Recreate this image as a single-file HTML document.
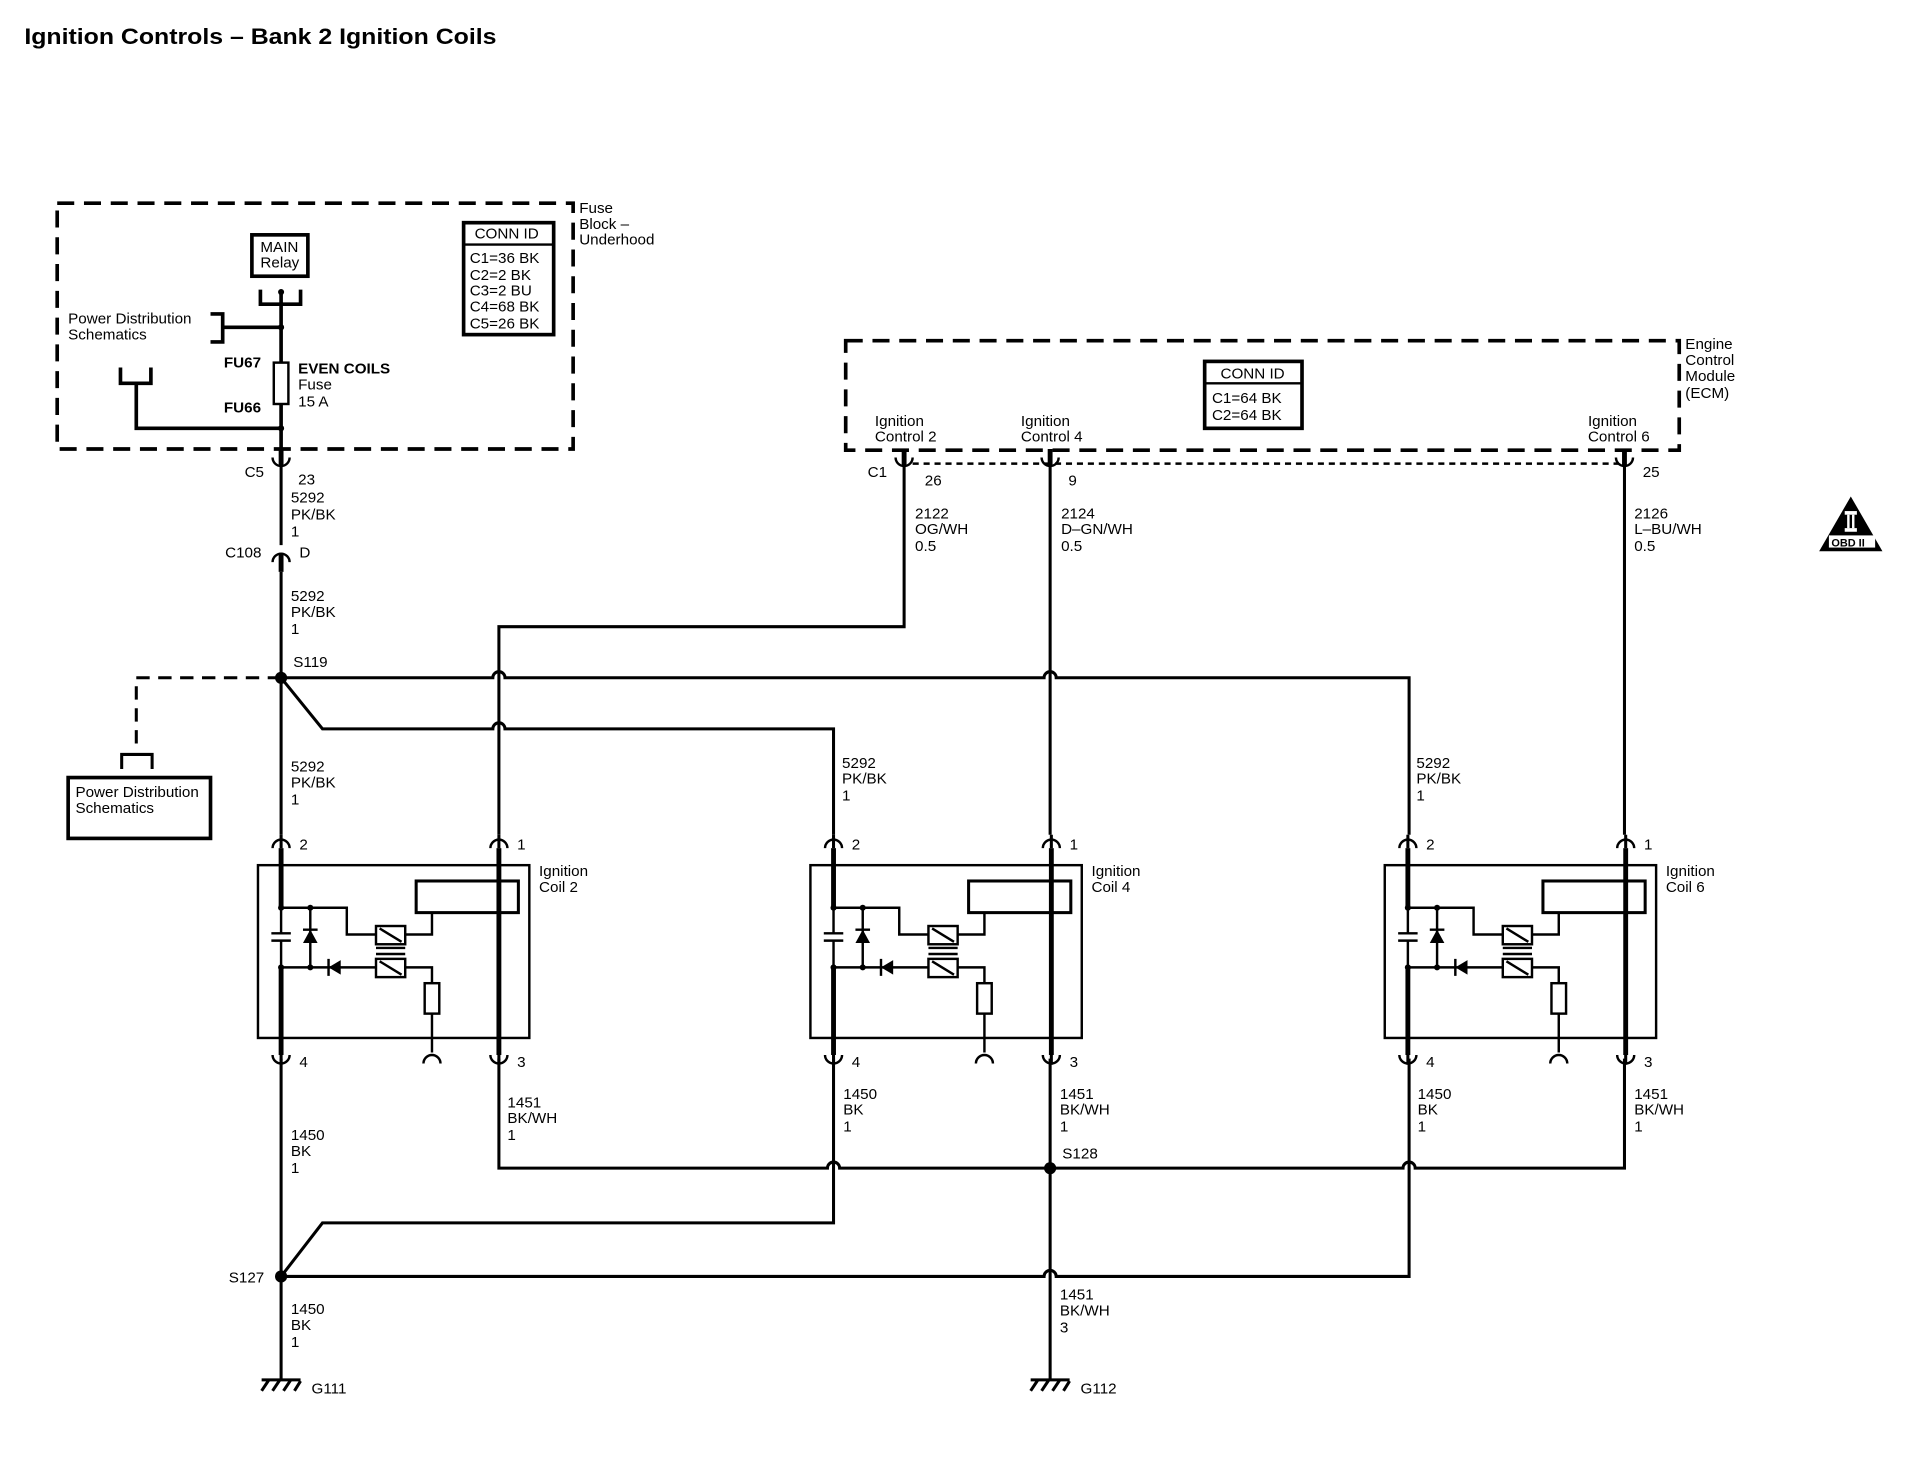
<!DOCTYPE html>
<html><head><meta charset="utf-8"><style>
html,body{margin:0;padding:0;background:#fff}
svg{display:block}
text{font-family:"Liberation Sans",sans-serif;font-size:12.5px;fill:#000}
.b{font-weight:bold}
</style></head><body>
<svg width="1908" height="1472" viewBox="0 0 1568 1209.7" xmlns="http://www.w3.org/2000/svg">
<defs>
<g id="coil" fill="none" stroke="#000">
 <rect x="212" y="711" width="223" height="142" stroke-width="2"/>
 <path d="M224,697 A7,7 0 0 1 238,697 M403,697 A7,7 0 0 1 417,697 M224,867 A7,7 0 0 0 238,867 M403,867 A7,7 0 0 0 417,867" stroke-width="2"/>
 <path d="M231,697 V746 M231,795 V867 M410,697 V867" stroke-width="4"/>
 <path d="M231,686 V697 M410,686 V697 M231,867 V875 M410,867 V875" stroke-width="2.5"/>
 <rect x="342" y="724" width="84" height="26" stroke-width="2.5"/>
 <path d="M231,746 V767 M231,773 V795 M223,767 H239 M223,773 H239" stroke-width="2"/>
 <path d="M231,746 H285 V768 H309 M333,768 H355 V750 M255,746 V795 M231,795 H309 M333,795 H355 V808 M355,833 V865" stroke-width="2"/>
 <rect x="309" y="761" width="24" height="15" stroke-width="2"/>
 <rect x="309" y="788" width="24" height="15" stroke-width="2"/>
 <path d="M312,763 L330,774 M312,790 L330,801 M309,779 H333 M309,784 H333 M249,764 H261 M270,788 V802" stroke-width="2"/>
 <polygon points="255,764 249,775 261,775" fill="#000" stroke="none"/>
 <polygon points="270,795 280,789 280,801" fill="#000" stroke="none"/>
 <rect x="349" y="808" width="12" height="25" stroke-width="2"/>
 <path d="M348,874 A7,7 0 0 1 362,874" stroke-width="2"/>
 <g fill="#000" stroke="none"><circle cx="231" cy="746" r="2.5"/><circle cx="255" cy="746" r="2.5"/><circle cx="231" cy="795" r="2.5"/><circle cx="255" cy="795" r="2.5"/></g>
</g>
</defs>
<text x="20" y="36" class="b" style="font-size:18px" textLength="388" lengthAdjust="spacingAndGlyphs">Ignition Controls – Bank 2 Ignition Coils</text>

<!-- Fuse block -->
<rect x="47" y="167" width="424" height="202" fill="none" stroke="#000" stroke-width="3" stroke-dasharray="14,8"/>
<text x="476" y="175">Fuse</text><text x="476" y="188">Block –</text><text x="476" y="201">Underhood</text>
<rect x="207" y="193" width="46" height="34" fill="none" stroke="#000" stroke-width="3"/>
<text x="214" y="207">MAIN</text><text x="214" y="220">Relay</text>
<rect x="381" y="183" width="74" height="92" fill="none" stroke="#000" stroke-width="3"/>
<line x1="381" y1="201" x2="455" y2="201" stroke="#000" stroke-width="2"/>
<text x="390" y="196">CONN ID</text>
<text x="386" y="216">C1=36 BK</text><text x="386" y="230">C2=2 BK</text><text x="386" y="243">C3=2 BU</text><text x="386" y="256">C4=68 BK</text><text x="386" y="270">C5=26 BK</text>
<g fill="none" stroke="#000" stroke-width="3">
 <path d="M214,238 V250 H247 V238"/>
 <path d="M231,240 V372"/>
 <path d="M173,258 H183 V281 H173 M183,269 H231"/>
 <path d="M99,302 V315 H124 V302 M112,315 V352 H231"/>
</g>
<rect x="225" y="298" width="12" height="34" fill="#fff" stroke="#000" stroke-width="2"/>
<circle cx="231" cy="240" r="2.5"/><circle cx="231" cy="269" r="2.5"/><circle cx="231" cy="352" r="2.5"/>
<text x="56" y="266">Power Distribution</text><text x="56" y="279">Schematics</text>
<text x="184" y="302" class="b">FU67</text><text x="184" y="339" class="b">FU66</text>
<text x="245" y="307" class="b">EVEN COILS</text><text x="245" y="320">Fuse</text><text x="245" y="334">15 A</text>

<!-- ECM -->
<rect x="695" y="280" width="685" height="90" fill="none" stroke="#000" stroke-width="3" stroke-dasharray="14,8"/>
<text x="1385" y="287">Engine</text><text x="1385" y="300">Control</text><text x="1385" y="313">Module</text><text x="1385" y="327">(ECM)</text>
<rect x="990" y="297" width="80" height="55" fill="none" stroke="#000" stroke-width="3"/>
<line x1="990" y1="315" x2="1070" y2="315" stroke="#000" stroke-width="2"/>
<text x="1003" y="311">CONN ID</text><text x="996" y="331">C1=64 BK</text><text x="996" y="345">C2=64 BK</text>
<text x="719" y="350">Ignition</text><text x="719" y="363">Control 2</text>
<text x="839" y="350">Ignition</text><text x="839" y="363">Control 4</text>
<text x="1305" y="350">Ignition</text><text x="1305" y="363">Control 6</text>
<line x1="750" y1="381" x2="1330" y2="381" stroke="#000" stroke-width="2" stroke-dasharray="5,4"/>

<!-- connectors -->
<g fill="none" stroke="#000" stroke-width="2">
 <path d="M224,376 A7,7 0 0 0 238,376 M736,376 A7,7 0 0 0 750,376 M856,376 A7,7 0 0 0 870,376 M1328,376 A7,7 0 0 0 1342,376"/>
 <path d="M224,462 A7,7 0 0 1 238,462"/>
</g>
<g fill="none" stroke="#000" stroke-width="4">
 <path d="M231,369 V383 M743,369 V383 M863,369 V383 M1335,369 V383 M231,455 V470"/>
</g>
<text x="201" y="392">C5</text><text x="245" y="398">23</text>
<text x="185" y="458">C108</text><text x="246" y="458">D</text>
<text x="713" y="392">C1</text><text x="760" y="399">26</text><text x="878" y="399">9</text><text x="1350" y="392">25</text>

<!-- wires -->
<g fill="none" stroke="#000" stroke-width="2.5">
 <path d="M231,383 V448 M231,470 V686"/>
 <path d="M231,557 H405 A5,5 0 0 1 415,557 H858 A5,5 0 0 1 868,557 H1158 V686"/>
 <path d="M231,557 L265,599 H405 A5,5 0 0 1 415,599 H685 V686"/>
 <path d="M743,383 V515 H410 V686"/>
 <path d="M863,383 V686 M1335,383 V686"/>
 <path d="M410,870 V960 H680 A5,5 0 0 1 690,960 H1153 A5,5 0 0 1 1163,960 H1335 V870"/>
 <path d="M685,870 V1005 H265 L231,1049"/>
 <path d="M231,870 V1133 M863,870 V1133"/>
 <path d="M231,1049 H858 A5,5 0 0 1 868,1049 H1158 V870"/>
 <path d="M215,1134 H247 M215,1143 L221,1134 M224,1143 L230,1134 M233,1143 L239,1134 M242,1143 L247,1135"/>
 <path d="M847,1134 H879 M847,1143 L853,1134 M856,1143 L862,1134 M865,1143 L871,1134 M874,1143 L879,1135"/>
</g>
<g fill="none" stroke="#000" stroke-width="2.5" stroke-dasharray="11,7">
 <path d="M231,557 H112 V612"/>
</g>
<path d="M100,632 V620 H125 V632" fill="none" stroke="#000" stroke-width="2.5"/>
<rect x="56" y="639" width="117" height="50" fill="none" stroke="#000" stroke-width="3"/>
<text x="62" y="655">Power Distribution</text><text x="62" y="668">Schematics</text>
<circle cx="231" cy="557" r="5"/><circle cx="863" cy="960" r="5"/><circle cx="231" cy="1049" r="5"/>
<text x="241" y="548">S119</text><text x="873" y="952">S128</text><text x="188" y="1054">S127</text>
<text x="256" y="1145">G111</text><text x="888" y="1145">G112</text>

<!-- wire labels -->
<g>
<text x="239" y="413">5292</text><text x="239" y="427">PK/BK</text><text x="239" y="441">1</text>
<text x="239" y="494">5292</text><text x="239" y="507">PK/BK</text><text x="239" y="521">1</text>
<text x="752" y="426">2122</text><text x="752" y="439">OG/WH</text><text x="752" y="453">0.5</text>
<text x="872" y="426">2124</text><text x="872" y="439">D–GN/WH</text><text x="872" y="453">0.5</text>
<text x="1343" y="426">2126</text><text x="1343" y="439">L–BU/WH</text><text x="1343" y="453">0.5</text>
<text x="239" y="634">5292</text><text x="239" y="647">PK/BK</text><text x="239" y="661">1</text>
<text x="692" y="631">5292</text><text x="692" y="644">PK/BK</text><text x="692" y="658">1</text>
<text x="1164" y="631">5292</text><text x="1164" y="644">PK/BK</text><text x="1164" y="658">1</text>
<text x="239" y="937">1450</text><text x="239" y="950">BK</text><text x="239" y="964">1</text>
<text x="417" y="910">1451</text><text x="417" y="923">BK/WH</text><text x="417" y="937">1</text>
<text x="693" y="903">1450</text><text x="693" y="916">BK</text><text x="693" y="930">1</text>
<text x="871" y="903">1451</text><text x="871" y="916">BK/WH</text><text x="871" y="930">1</text>
<text x="1165" y="903">1450</text><text x="1165" y="916">BK</text><text x="1165" y="930">1</text>
<text x="1343" y="903">1451</text><text x="1343" y="916">BK/WH</text><text x="1343" y="930">1</text>
<text x="239" y="1080">1450</text><text x="239" y="1093">BK</text><text x="239" y="1107">1</text>
<text x="871" y="1068">1451</text><text x="871" y="1081">BK/WH</text><text x="871" y="1095">3</text>
</g>

<!-- coils -->
<use href="#coil"/>
<use href="#coil" transform="translate(454,0)"/>
<use href="#coil" transform="translate(926,0)"/>
<g>
<text x="246" y="698">2</text><text x="425" y="698">1</text><text x="246" y="877">4</text><text x="425" y="877">3</text>
<text x="443" y="720">Ignition</text><text x="443" y="733">Coil 2</text>
<text x="700" y="698">2</text><text x="879" y="698">1</text><text x="700" y="877">4</text><text x="879" y="877">3</text>
<text x="897" y="720">Ignition</text><text x="897" y="733">Coil 4</text>
<text x="1172" y="698">2</text><text x="1351" y="698">1</text><text x="1172" y="877">4</text><text x="1351" y="877">3</text>
<text x="1369" y="720">Ignition</text><text x="1369" y="733">Coil 6</text>
</g>

<!-- OBD II -->
<polygon points="1521,408 1495,453 1547,453" fill="#000"/>
<rect x="1516" y="420" width="10" height="3" fill="#fff"/><rect x="1516" y="434" width="10" height="3" fill="#fff"/>
<rect x="1518" y="423" width="2" height="11" fill="#fff"/><rect x="1522" y="423" width="2" height="11" fill="#fff"/>
<rect x="1503" y="440" width="38" height="10" fill="#fff"/>
<text x="1505" y="449" class="b" style="font-size:9px">OBD II</text>
</svg>
</body></html>
